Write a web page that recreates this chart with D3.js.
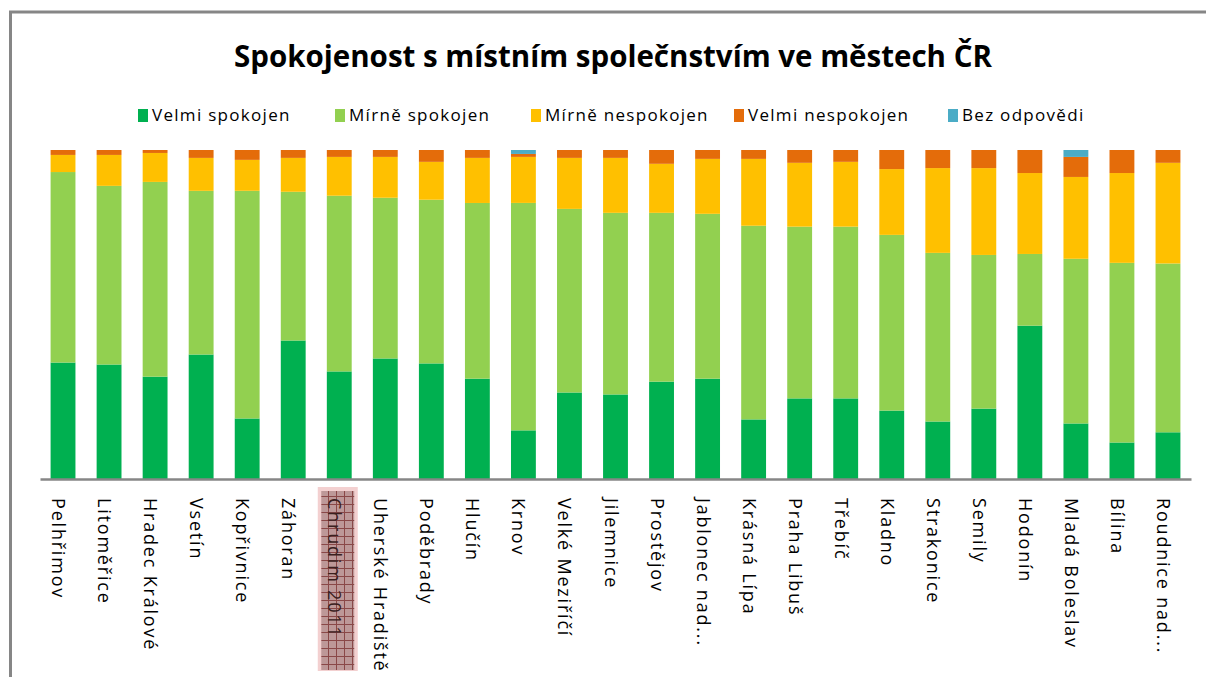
<!DOCTYPE html>
<html>
<head>
<meta charset="utf-8">
<script src="https://cdn.jsdelivr.net/npm/d3@7"></script>
<style>
  body { margin: 0; background: #fff; }
  svg { display: block; }
</style>
</head>
<body>
<div id="container"></div>
<script>
const cities = ['Pelhřimov', 'Litoměřice', 'Hradec Králové', 'Vsetín', 'Kopřivnice', 'Záhoran',
  'Chrudim 2011', 'Uherské Hradiště', 'Poděbrady', 'Hlučín', 'Krnov', 'Velké Meziříčí', 'Jilemnice',
  'Prostějov', 'Jablonec nad...', 'Krásná Lípa', 'Praha Libuš', 'Třebíč', 'Kladno', 'Strakonice',
  'Semily', 'Hodonín', 'Mladá Boleslav', 'Bílina', 'Roudnice nad...']

const seriesNames = ['Velmi spokojen', 'Mírně spokojen', 'Mírně nespokojen', 'Velmi nespokojen', 'Bez odpovědi']

const velmiSpokojen = [35.4, 34.8, 31.1, 37.8, 18.4, 42.1, 32.7, 36.6, 35.1, 30.5, 14.8, 26.3, 25.7,
  29.6, 30.5, 18.1, 24.5, 24.5, 20.8, 17.5, 21.4, 46.6, 16.9, 11.1, 14.2]
const mirneSpokojen = [57.9, 54.3, 59.2, 49.7, 69.2, 45.2, 53.4, 48.8, 49.7, 53.4, 69.2, 55.8, 55.2,
  51.3, 50.1, 58.8, 52.2, 52.2, 53.4, 51.3, 46.7, 21.8, 50.1, 54.6, 51.3]
const mirneNespokojen = [5.2, 9.4, 8.8, 10.0, 9.4, 10.3, 11.8, 12.4, 11.5, 13.7, 14.0, 15.5, 16.7,
  14.9, 16.7, 20.3, 19.4, 19.7, 20.0, 25.8, 26.4, 24.6, 24.9, 27.3, 30.6]
const velmiNespokojen = [1.5, 1.5, 0.9, 2.4, 3.0, 2.4, 2.1, 2.1, 3.6, 2.4, 0.9, 2.4, 2.4,
  4.2, 2.7, 2.7, 3.9, 3.6, 5.8, 5.5, 5.5, 7.0, 6.1, 7.0, 3.9]
const bezOdpovedi = [0, 0, 0, 0, 0, 0, 0, 0, 0, 0, 1.2, 0, 0,
  0, 0, 0, 0, 0, 0, 0, 0, 0, 2.1, 0, 0]

const colors = ['#00B050', '#92D050', '#FFC000', '#E46C0A', '#4BACC6']
const highlighted = 'Chrudim 2011'

const width = 1206
const height = 677
const plot = { left: 40, right: 1191, top: 150, bottom: 479 }

let table = cities.map(function (c, i) {
  return {
    city: c,
    s0: velmiSpokojen[i],
    s1: mirneSpokojen[i],
    s2: mirneNespokojen[i],
    s3: velmiNespokojen[i],
    s4: bezOdpovedi[i]
  }
})
const keys = ['s0', 's1', 's2', 's3', 's4']

const stacked = d3.stack().keys(keys).offset(d3.stackOffsetExpand)(table)

const x = d3.scaleBand()
  .domain(cities)
  .range([plot.left, plot.right])
  .paddingInner(0.46)
  .paddingOuter(0.23)

const y = d3.scaleLinear()
  .domain([0, 1])
  .range([plot.bottom, plot.top])

const svg = d3.select('#container')
  .append('svg')
  .attr('width', width)
  .attr('height', height)

// highlight pattern behind Chrudim label
const defs = svg.append('defs')
const pat = defs.append('pattern')
  .attr('id', 'grid')
  .attr('patternUnits', 'userSpaceOnUse')
  .attr('width', 8)
  .attr('height', 8)
pat.append('rect').attr('width', 8).attr('height', 8).attr('fill', '#bd9898')
pat.append('path').attr('d', 'M0 0.5H8M0.5 0V8').attr('stroke', '#8a4848').attr('stroke-width', 1)

// chart border
svg.append('rect')
  .attr('x', 10.5)
  .attr('y', 12)
  .attr('width', 1210)
  .attr('height', 700)
  .attr('fill', 'none')
  .attr('stroke', '#868686')
  .attr('stroke-width', 3)

svg.append('text')
  .attr('x', 613)
  .attr('y', 67)
  .attr('text-anchor', 'middle')
  .style('font-family', '"Open Sans", sans-serif')
  .style('font-weight', 'bold')
  .style('font-size', '29.5px')
  .text('Spokojenost s místním společnstvím ve městech ČR')

// legend
const legendX = [138, 335, 531, 734, 948]
const legend = svg.append('g').attr('class', 'legend')
seriesNames.forEach(function (name, i) {
  const g = legend.append('g').attr('transform', 'translate(' + legendX[i] + ',109)')
  g.append('rect').attr('width', 10).attr('height', 13).attr('fill', colors[i])
  g.append('text')
    .attr('x', 14)
    .attr('y', 12)
    .style('font-family', '"Open Sans", sans-serif')
    .style('font-size', '17px')
    .style('letter-spacing', '1.3px')
    .text(name)
})

svg.append('g')
  .selectAll('g')
  .data(stacked)
  .enter().append('g')
  .attr('fill', function (d, i) { return colors[i] })
  .selectAll('rect')
  .data(function (d) { return d })
  .enter().append('rect')
  .attr('x', function (d) { return x(d.data.city) })
  .attr('y', function (d) { return y(d[1]) })
  .attr('height', function (d) { return y(d[0]) - y(d[1]) })
  .attr('width', x.bandwidth())

// highlight box
const hx = x(highlighted) + x.bandwidth() / 2
svg.append('rect')
  .attr('x', hx - 21.5)
  .attr('y', 487)
  .attr('width', 40)
  .attr('height', 184)
  .attr('fill', '#f3d0d0')
svg.append('rect')
  .attr('x', hx - 18)
  .attr('y', 491)
  .attr('width', 33)
  .attr('height', 179)
  .attr('fill', 'url(#grid)')

const axis = svg.append('g')
  .attr('transform', 'translate(0,' + plot.bottom + ')')
  .call(d3.axisBottom(x).tickSize(0).tickPadding(0))

axis.select('.domain')
  .attr('stroke', '#868686')
  .attr('stroke-width', 2.5)

axis.selectAll('text')
  .attr('transform', 'rotate(90)')
  .attr('x', 19)
  .attr('y', 0)
  .attr('dy', 11)
  .attr('text-anchor', 'start')
  .style('font-family', '"Open Sans", sans-serif')
  .style('font-size', '18px')
  .style('letter-spacing', '1.8px')
  .attr('fill', function (d) { return d === highlighted ? '#3a2020' : '#000' })
</script>
</body>
</html>
